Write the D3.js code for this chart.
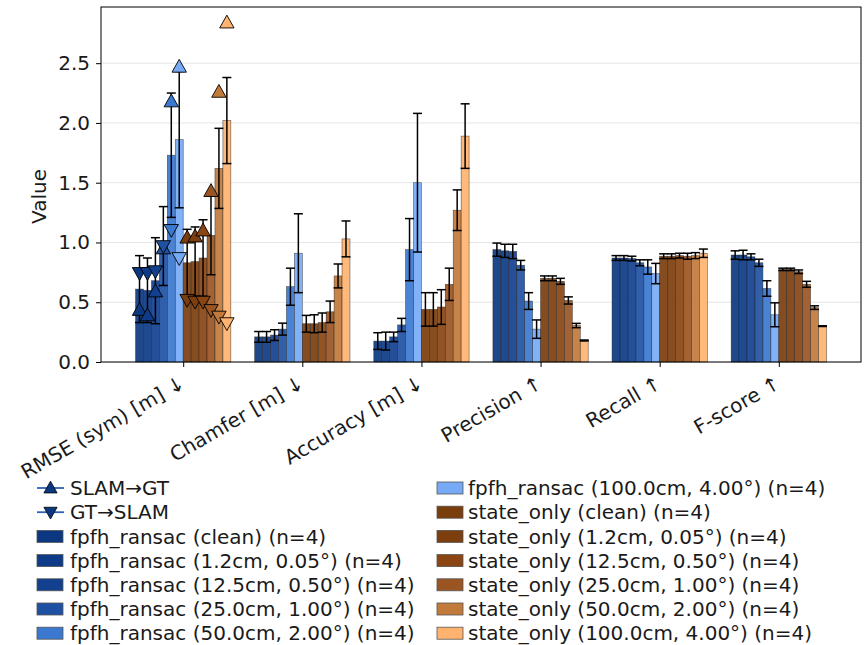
<!DOCTYPE html>
<html>
<head>
<meta charset="utf-8">
<script src="https://cdn.jsdelivr.net/npm/d3@7"></script>
<style>
  body { margin: 0; background: #fff; }
  text { font-family: "DejaVu Sans", sans-serif; fill: #1a1a1a; }
</style>
</head>
<body>
<svg id="chart" width="867" height="645"></svg>
<script>
// ---------------- data ----------------
const metrics = ["RMSE (sym) [m] \u2193", "Chamfer [m] \u2193", "Accuracy [m] \u2193", "Precision \u2191", "Recall \u2191", "F-score \u2191"];
const configs = [
  "fpfh_ransac (clean) (n=4)",
  "fpfh_ransac (1.2cm, 0.05\u00b0) (n=4)",
  "fpfh_ransac (12.5cm, 0.50\u00b0) (n=4)",
  "fpfh_ransac (25.0cm, 1.00\u00b0) (n=4)",
  "fpfh_ransac (50.0cm, 2.00\u00b0) (n=4)",
  "fpfh_ransac (100.0cm, 4.00\u00b0) (n=4)",
  "state_only (clean) (n=4)",
  "state_only (1.2cm, 0.05\u00b0) (n=4)",
  "state_only (12.5cm, 0.50\u00b0) (n=4)",
  "state_only (25.0cm, 1.00\u00b0) (n=4)",
  "state_only (50.0cm, 2.00\u00b0) (n=4)",
  "state_only (100.0cm, 4.00\u00b0) (n=4)"
];
const colors = ["#0b3880", "#0d3b87", "#12408f", "#1f51a3", "#3b78d0", "#76aaf5",
                "#7a3d0c", "#7c3e0e", "#8a4512", "#9a5522", "#c27a3b", "#ffb36f"];

const rmseMean     = [0.61, 0.60, 0.68, 0.97, 1.73, 1.86, 0.83, 0.84, 0.87, 1.06, 1.62, 2.02];
const rmseStd      = [0.28, 0.27, 0.36, 0.33, 0.52, 0.57, 0.28, 0.29, 0.32, 0.33, 0.335, 0.36];
const chamferMean  = [0.21, 0.21, 0.225, 0.275, 0.63, 0.91, 0.32, 0.32, 0.33, 0.42, 0.72, 1.03];
const chamferStd   = [0.045, 0.045, 0.045, 0.05, 0.155, 0.33, 0.07, 0.075, 0.08, 0.09, 0.10, 0.15];
const accuracyMean = [0.175, 0.175, 0.21, 0.31, 0.94, 1.50, 0.44, 0.44, 0.46, 0.65, 1.27, 1.89];
const accuracyStd  = [0.07, 0.075, 0.04, 0.055, 0.26, 0.58, 0.14, 0.14, 0.145, 0.135, 0.17, 0.27];
const precisionMean= [0.94, 0.93, 0.925, 0.81, 0.51, 0.275, 0.70, 0.70, 0.675, 0.515, 0.305, 0.18];
const precisionStd = [0.055, 0.055, 0.06, 0.04, 0.07, 0.077, 0.02, 0.02, 0.025, 0.03, 0.018, 0.004];
const recallMean   = [0.87, 0.87, 0.865, 0.83, 0.795, 0.74, 0.885, 0.885, 0.89, 0.885, 0.89, 0.91];
const recallStd    = [0.02, 0.02, 0.02, 0.025, 0.06, 0.085, 0.02, 0.02, 0.02, 0.025, 0.025, 0.035];
const fscoreMean   = [0.895, 0.895, 0.88, 0.83, 0.615, 0.395, 0.775, 0.775, 0.755, 0.65, 0.455, 0.30];
const fscoreStd    = [0.035, 0.04, 0.025, 0.03, 0.065, 0.10, 0.01, 0.01, 0.015, 0.025, 0.015, 0.003];
const slamToGt = [0.435, 0.39, 0.59, 0.95, 2.18, 2.47, 1.04, 1.05, 1.10, 1.43, 2.26, 2.84];
const gtToSlam = [0.745, 0.745, 0.76, 0.97, 1.105, 0.87, 0.52, 0.505, 0.505, 0.435, 0.38, 0.325];
const yTicks = [0.0, 0.5, 1.0, 1.5, 2.0, 2.5];

const means = [rmseMean, chamferMean, accuracyMean, precisionMean, recallMean, fscoreMean];
const stds  = [rmseStd, chamferStd, accuracyStd, precisionStd, recallStd, fscoreStd];

// ---------------- layout ----------------
const FS = 20;
const svg = d3.select("#chart");
const L = 101, R = 861, T = 7, B = 362;
const x = d3.scaleLinear().domain([-0.69, 5.69]).range([L, R]);
const y = d3.scaleLinear().domain([0, 2.97]).range([B, T]);
const nC = configs.length;
const w = 0.8 / nC;

svg.append("g").selectAll("line").data(yTicks).join("line")
  .attr("x1", L).attr("x2", R)
  .attr("y1", d => y(d)).attr("y2", d => y(d))
  .attr("stroke", "#e6e6e6").attr("stroke-width", 1);

const bars = [];
metrics.forEach((m, g) => {
  configs.forEach((c, i) => {
    bars.push({g, i, mean: means[g][i], std: stds[g][i], cx: g - 0.4 + (i + 0.5) * w});
  });
});

svg.append("g").selectAll("rect").data(bars).join("rect")
  .attr("x", d => x(d.cx - w / 2))
  .attr("width", d => x(d.cx + w / 2) - x(d.cx - w / 2))
  .attr("y", d => y(d.mean))
  .attr("height", d => y(0) - y(d.mean))
  .attr("fill", d => colors[d.i])
  .attr("fill-opacity", 0.92)
  .attr("stroke", "#222").attr("stroke-opacity", 0.7).attr("stroke-width", 0.6);

const eb = svg.append("g").attr("stroke", "#000").attr("stroke-width", 1.5);
bars.forEach(d => {
  const cx = x(d.cx);
  const y1 = y(d.mean + d.std), y0 = y(Math.max(0, d.mean - d.std));
  eb.append("line").attr("x1", cx).attr("x2", cx).attr("y1", y1).attr("y2", y0);
  eb.append("line").attr("x1", cx - 4.5).attr("x2", cx + 4.5).attr("y1", y1).attr("y2", y1);
  eb.append("line").attr("x1", cx - 4.5).attr("x2", cx + 4.5).attr("y1", y0).attr("y2", y0);
});

const triUp = (cx, cy, s) => `M${cx},${cy - s * 0.62}L${cx + s * 0.6},${cy + s * 0.45}L${cx - s * 0.6},${cy + s * 0.45}Z`;
const triDn = (cx, cy, s) => `M${cx},${cy + s * 0.62}L${cx + s * 0.6},${cy - s * 0.45}L${cx - s * 0.6},${cy - s * 0.45}Z`;
const mk = svg.append("g");
configs.forEach((c, i) => {
  const cx = x(0 - 0.4 + (i + 0.5) * w);
  mk.append("path").attr("d", triUp(cx, y(slamToGt[i]), 12))
    .attr("fill", colors[i]).attr("stroke", "#000").attr("stroke-width", 0.9);
  mk.append("path").attr("d", triDn(cx, y(gtToSlam[i]), 12))
    .attr("fill", colors[i]).attr("stroke", "#000").attr("stroke-width", 0.9);
});

svg.append("rect").attr("x", L).attr("y", T).attr("width", R - L).attr("height", B - T)
  .attr("fill", "none").attr("stroke", "#000").attr("stroke-width", 1);

const yAx = svg.append("g").attr("transform", `translate(${L},0)`)
  .call(d3.axisLeft(y).tickValues(yTicks).tickFormat(d3.format(".1f")).tickSize(5).tickPadding(6));
yAx.select(".domain").remove();
yAx.selectAll("text").attr("font-size", FS).attr("font-family", "DejaVu Sans").attr("fill", "#1a1a1a");
yAx.selectAll("line").attr("stroke", "#000");

svg.append("text").attr("transform", `translate(46,${(T + B) / 2 + 12}) rotate(-90)`)
  .attr("text-anchor", "middle").attr("font-size", FS).text("Value");

const xAx = svg.append("g").attr("transform", `translate(0,${B})`)
  .call(d3.axisBottom(x).tickValues(d3.range(metrics.length)).tickFormat("").tickSize(5));
xAx.select(".domain").remove();
xAx.selectAll("line").attr("stroke", "#000");
svg.append("g").selectAll("text").data(metrics).join("text")
  .attr("transform", (d, g) => `translate(${x(g) + 3},${B + 25}) rotate(-30)`)
  .attr("text-anchor", "end").attr("font-size", FS).text(d => d);

const rowH = 24.2, top0 = 488;
const leg = svg.append("g");
const lineEntries = [{label: "SLAM\u2192GT", up: true}, {label: "GT\u2192SLAM", up: false}];
lineEntries.forEach((e, k) => {
  const cy = top0 + k * rowH;
  leg.append("line").attr("x1", 37).attr("x2", 64).attr("y1", cy).attr("y2", cy)
    .attr("stroke", "#2d62b5").attr("stroke-width", 1.8);
  leg.append("path").attr("d", e.up ? triUp(50.5, cy, 11) : triDn(50.5, cy, 11))
    .attr("fill", "#0b3880").attr("stroke", "#000").attr("stroke-width", 0.8);
  leg.append("text").attr("x", 70).attr("y", cy).attr("dy", "0.36em").attr("font-size", FS).text(e.label);
});
configs.forEach((c, i) => {
  const slot = i + 2;
  const col = slot < 7 ? 0 : 1;
  const row = slot % 7;
  const cy = top0 + row * rowH;
  const sx = col === 0 ? 37 : 437, tx = col === 0 ? 70 : 468;
  leg.append("rect").attr("x", sx).attr("y", cy - 6).attr("width", 26).attr("height", 12)
    .attr("fill", colors[i]).attr("stroke", "#555").attr("stroke-width", 0.8);
  leg.append("text").attr("x", tx).attr("y", cy).attr("dy", "0.36em").attr("font-size", FS).text(c);
});
</script>
</body>
</html>
